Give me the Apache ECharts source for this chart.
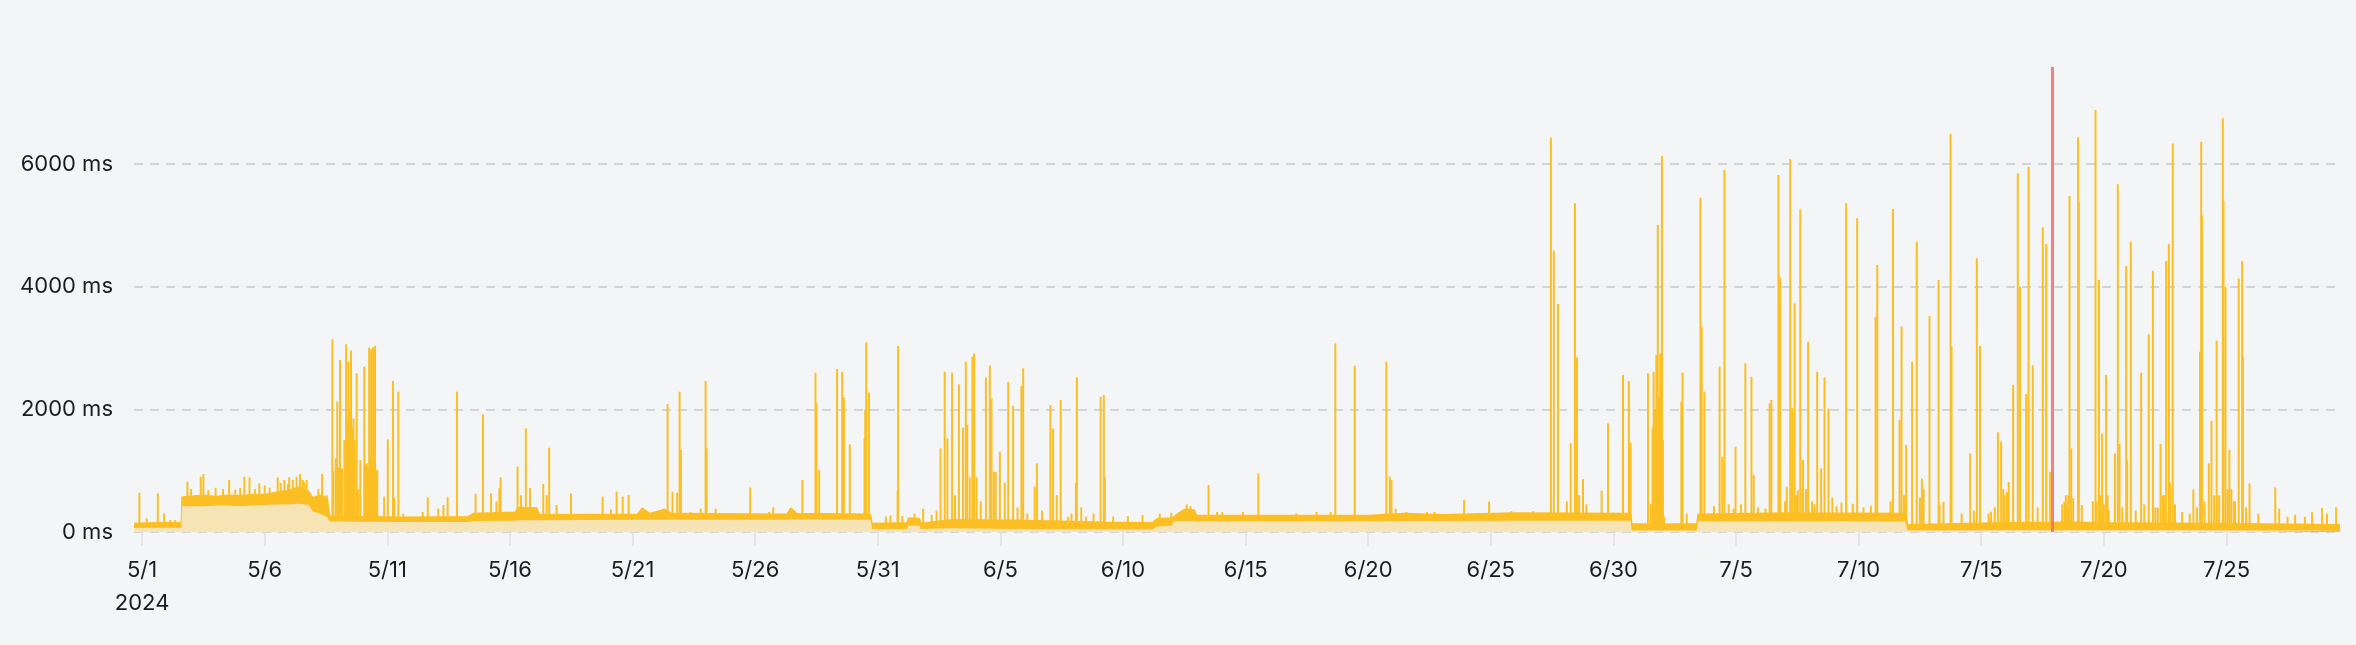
<!DOCTYPE html>
<html>
<head>
<meta charset="UTF-8">
<title>Response time</title>
<script src="https://cdn.jsdelivr.net/npm/echarts@6/dist/echarts.min.js"></script>
<style>
  html, body { margin: 0; height: 100%; background: #f4f5f7; }
  #main { width: 2356px; height: 645px; }
</style>
</head>
<body>
<div id="main"></div>
<script>
// all times are days after 2024-05-01 00:00, values in ms

// the thick noisy baseline: top of the yellow band and top of the pale fill below it
const bandDays = [-0.33, 0.5, 1.6, 1.63, 2.5, 3.0, 3.5, 4.0, 4.5, 5.0, 5.5, 6.0, 6.4, 6.8, 6.95, 7.3, 7.55, 7.65,
  10.5, 13.3, 13.5, 15.2, 15.35, 16.1, 16.2, 20.2, 20.4, 20.7, 21.3, 21.6, 26.3, 26.45, 26.7, 29.7, 29.77,
  31.2, 31.25, 31.7, 31.75, 33.0, 35.5, 39.3, 41.2, 41.4, 42.0, 42.05, 42.5, 42.9, 43.0, 50.0, 51.5, 53.0,
  56.0, 60.7, 60.75, 63.4, 63.45, 67.0, 71.9, 72.0, 76.0, 78.4, 80.0, 84.0, 86.5, 89.63];
const bandHigh = [140, 150, 150, 570, 600, 580, 600, 590, 610, 610, 650, 680, 730, 660, 560, 600, 560, 260,
  240, 250, 300, 320, 400, 390, 280, 290, 390, 300, 370, 300, 290, 390, 300, 290, 140,
  150, 230, 220, 140, 200, 190, 160, 150, 220, 230, 260, 370, 360, 270, 270, 300, 280,
  310, 300, 130, 130, 290, 310, 300, 120, 150, 160, 150, 140, 130, 120];
const bandLow = [65, 70, 70, 420, 420, 430, 430, 420, 430, 440, 450, 450, 460, 440, 340, 290, 240, 170,
  165, 165, 180, 185, 190, 190, 190, 200, 200, 200, 200, 200, 200, 205, 205, 200, 50,
  50, 100, 100, 50, 60, 50, 45, 40, 90, 100, 170, 180, 180, 175, 175, 180, 180,
  185, 185, 25, 25, 175, 175, 170, 25, 30, 30, 30, 30, 25, 25];

// tall and medium spikes
const spikeDays = [-0.11, 0.19, 0.64, 0.9, 1.14, 1.35, 1.85, 2.39, 2.5, 3.55, 4.17, 4.38, 4.78, 5.53, 5.8, 6.0,
  6.3, 6.44, 6.71, 7.19, 7.34, 7.53, 7.76, 7.8, 7.9, 7.96, 8.02, 8.07, 8.15, 8.25, 8.32, 8.36, 8.41, 8.46,
  8.52, 8.56, 8.62, 8.67, 8.75, 8.82, 8.9, 9.06, 9.1, 9.16, 9.21, 9.26, 9.3, 9.34, 9.38, 9.42, 9.46, 9.5,
  9.55, 9.59, 9.87, 10.02, 10.23, 10.28, 10.45, 10.65, 11.44, 11.65, 12.08, 12.29, 12.46, 12.84, 13.6, 13.9,
  14.23, 14.45, 14.57, 14.62, 15.31, 15.45, 15.65, 15.82, 16.36, 16.5, 16.6, 16.9, 17.49, 18.78, 19.12,
  19.35, 19.6, 19.84, 21.43, 21.63, 21.82, 21.92, 21.97, 22.37, 22.78, 22.98, 23.02, 23.39, 24.8, 25.57,
  25.74, 26.93, 27.46, 27.5, 27.61, 28.34, 28.55, 28.62, 28.86, 29.46, 29.49, 29.53, 29.64, 30.33, 30.52,
  30.81, 30.83, 31.85, 32.56, 32.73, 32.84, 33.03, 33.31, 33.48, 33.59, 33.65, 33.86, 33.93, 34.03, 34.41,
  34.57, 34.64, 34.73, 34.81, 34.98, 35.18, 35.32, 35.52, 35.86, 35.93, 36.4, 36.49, 37.04, 37.15, 37.46,
  37.76, 38.08, 38.12, 38.49, 39.09, 39.22, 39.26, 41.97, 43.49, 43.84, 44.05, 44.89, 45.52, 47.07, 47.89,
  48.47, 48.66, 49.45, 50.74, 50.88, 50.95, 51.12, 51.56, 52.4, 52.71, 53.91, 54.93, 55.84, 56.72, 57.45,
  57.57, 57.74, 58.1, 58.26, 58.43, 58.51, 58.6, 58.76, 58.9, 59.52, 59.78, 60.39, 60.63, 60.7, 61.41,
  61.52, 61.6, 61.64, 61.7, 61.75, 61.81, 61.86, 61.91, 61.95, 61.98, 62.02, 62.07, 62.77, 62.82, 62.99,
  63.55, 63.6, 63.71, 64.33, 64.44, 64.53, 64.7, 64.98, 65.38, 65.63, 65.72, 66.37, 66.44, 66.73, 66.8,
  67.0, 67.07, 67.21, 67.29, 67.39, 67.45, 67.52, 67.62, 67.73, 67.85, 67.94, 68.1, 68.31, 68.47, 68.61,
  68.77, 68.93, 69.49, 69.76, 69.94, 70.69, 70.76, 71.4, 71.67, 71.75, 71.94, 72.18, 72.37, 72.58, 72.89,
  73.26, 73.46, 73.75, 73.79, 74.55, 74.82, 74.95, 75.4, 75.55, 75.68, 75.81, 75.9, 76.12, 76.3, 76.49,
  76.58, 76.83, 76.93, 77.1, 77.51, 77.65, 77.81, 78.39, 78.45, 78.5, 78.6, 78.67, 78.95, 78.98, 79.1,
  79.66, 79.7, 79.8, 79.85, 79.93, 80.09, 80.2, 80.45, 80.57, 80.64, 80.91, 80.95, 81.1, 81.52, 81.83,
  82.0, 82.1, 82.31, 82.4, 82.54, 82.65, 82.7, 82.81, 83.19, 83.65, 83.92, 83.97, 84.0, 84.28, 84.39,
  84.5, 84.6, 84.85, 84.88, 84.96, 85.05, 85.12, 85.3, 85.5, 85.64, 85.67, 85.94, 86.99, 87.15, 87.49,
  88.49, 88.9, 89.47];
const spikeMs = [641, 223, 630, 304, 196, 196, 820, 902, 946, 848, 902, 891, 793, 891, 848, 891,
  900, 946, 850, 700, 946, 600, 3141, 1000, 1200, 2124, 1050, 2804, 1038, 1500, 3060, 1800, 2778, 2000,
  2958, 1700, 1853, 1500, 2587, 700, 1174, 2695, 1100, 1120, 1050, 3007, 1200, 2980, 1100, 3007, 1150, 3034,
  1000, 1010, 576, 1511, 2461, 560, 2287, 300, 326, 565, 380, 440, 565, 2287, 620, 1918,
  630, 500, 711, 891, 1065, 600, 1690, 717, 782, 600, 1374, 440, 630, 576, 369,
  657, 576, 603, 2086, 657, 640, 2287, 1337, 326, 380, 2461, 1364, 380, 728, 326,
  402, 848, 2597, 2097, 1011, 2657, 2613, 2195, 1429, 1527, 2000, 3092, 2271, 250, 270,
  680, 3032, 380, 1364, 2613, 1527, 2597, 2407, 1700, 2776, 1750, 2858, 2912, 891, 2521,
  2711, 2179, 980, 980, 1310, 804, 2445, 2054, 2380, 2668, 739, 1119, 2070, 1690, 2152,
  250, 793, 2521, 250, 2206, 2233, 900, 315, 766, 326, 326, 326, 956, 300, 326,
  326, 3075, 2711, 2776, 902, 848, 380, 326, 326, 326, 521, 494, 340, 340, 6430,
  4585, 3716, 500, 1445, 5357, 2847, 600, 863, 450, 673, 1771, 2559, 2461, 1456, 2587,
  460, 1700, 2613, 2000, 2885, 5004, 2200, 2912, 1800, 6129, 1500, 250, 2124, 2597, 300,
  5449, 3347, 2287, 2695, 1227, 5901, 450, 1390, 2749, 2531, 930, 2097, 2152, 5819, 4150,
  500, 739, 6075, 2022, 3728, 600, 680, 5260, 1174, 700, 3102, 500, 2613, 1038, 2521,
  2011, 560, 5357, 460, 5113, 3510, 4352, 5266, 1826, 3347, 1418, 2776, 4732, 870, 3521,
  4108, 494, 6487, 3021, 1281, 4461, 3032, 330, 400, 1625, 1478, 700, 815, 2396, 5847,
  4000, 2250, 5955, 2717, 4966, 4694, 983, 494, 600, 400, 5477, 1364, 6433, 5380, 440,
  6879, 500, 4108, 600, 1608, 2559, 350, 1281, 5667, 1434, 4336, 1174, 4732, 2597, 3222,
  4260, 400, 1434, 600, 4417, 4694, 800, 6335, 326, 695, 2939, 6362, 5160, 1119, 1815,
  600, 3119, 6743, 5400, 4000, 700, 1337, 500, 4135, 4417, 2855, 793, 728, 380, 250,
  326, 391, 402];

// small spikes that make the baseline look noisy
const smallDays = [2.0, 2.7, 3.0, 3.3, 3.8, 4.0, 4.6, 5.0, 5.2, 5.65, 5.95, 6.15, 6.55, 6.6,
  31.0, 31.5, 32.2, 32.4, 33.15, 33.75, 34.2, 35.7, 36.1, 36.7, 37.3, 37.9, 38.3, 38.8, 39.6, 40.2, 40.8, 41.5,
  42.6, 42.75, 64.1, 64.9, 65.2, 65.9, 66.2, 68.2, 69.1, 69.3, 70.2, 70.5, 71.3, 71.85, 72.5, 72.65, 73.3,
  74.2, 74.7, 75.3, 75.95, 76.05, 77.3, 78.3, 78.55, 78.75, 79.55, 80.0, 80.15, 80.75, 81.3, 81.65, 82.2,
  82.45, 82.9, 83.5, 83.8, 84.1, 84.7, 85.2, 85.35, 85.8, 86.3, 87.8, 88.2, 89.1];
const smallMs = [700, 680, 720, 700, 690, 720, 700, 760, 720, 800, 780, 850, 850, 820,
  260, 300, 280, 350, 600, 900, 500, 400, 300, 350, 600, 300, 400, 300, 250, 260, 280, 300,
  450, 420, 420, 380, 450, 400, 380, 450, 420, 480, 400, 430, 500, 600, 560, 700, 450,
  300, 350, 300, 600, 650, 400, 450, 600, 550, 500, 450, 600, 400, 350, 450, 400,
  600, 450, 300, 400, 500, 600, 700, 500, 400, 300, 280, 250, 300];

// incident marker (red line)
const incidentDays = [77.9];

// x tick positions and axis ranges
const tickDays = [0, 5, 10, 15, 20, 25, 30, 35, 40, 45, 50, 55, 60, 65, 70, 75, 80, 85];
const firstDay = -0.33;
const lastDay = 89.63;
const yMax = 7580;

const DAY = 86400000;
const t0 = new Date(2024, 4, 1, 12).getTime();

const yellow = '#fbbf24';
const pale = '#f6e4b4';
const labelFont = { color: '#1c1c1e', fontSize: 22, fontFamily: 'Inter' };

let chart = echarts.init(document.getElementById('main'));

function dayLabel(d) {
  let dt = new Date(t0 + Math.round(d) * DAY);
  let s = (dt.getMonth() + 1) + '/' + dt.getDate();
  return Math.abs(d) < 0.01 ? s + '\n2024' : s;
}

let spikes = spikeDays.map((d, i) => [d, spikeMs[i]])
  .concat(smallDays.map((d, i) => [d, smallMs[i]]));

chart.setOption({
  animation: false,
  backgroundColor: '#f4f5f7',
  grid: { left: 134, right: 16, top: 67, bottom: 113, containLabel: false },
  xAxis: {
    type: 'value',
    min: firstDay,
    max: lastDay,
    axisLine: { show: false },
    splitLine: { show: false },
    axisTick: {
      show: true,
      customValues: tickDays,
      length: 14,
      lineStyle: { color: '#dfe0e3', width: 1.5 }
    },
    axisLabel: Object.assign({
      customValues: tickDays,
      margin: 22,
      lineHeight: 33,
      formatter: dayLabel
    }, labelFont)
  },
  yAxis: {
    type: 'value',
    min: 0,
    max: yMax,
    interval: 2000,
    axisLine: { show: false },
    axisTick: { show: false },
    axisLabel: Object.assign({
      formatter: v => v + ' ms',
      margin: 21,
      showMaxLabel: false
    }, labelFont),
    splitLine: {
      show: true,
      showMaxLine: false,
      lineStyle: { color: '#c8c9cd', width: 1.5, type: [9, 7] }
    }
  },
  series: [
    {
      name: 'spikes',
      type: 'bar',
      barWidth: 2,
      z: 1,
      itemStyle: { color: yellow },
      data: spikes
    },
    {
      name: 'band',
      type: 'line',
      symbol: 'none',
      z: 2,
      lineStyle: { color: yellow, width: 1.5 },
      areaStyle: { color: yellow, opacity: 1 },
      data: bandDays.map((d, i) => [d, bandHigh[i]])
    },
    {
      name: 'floor',
      type: 'line',
      symbol: 'none',
      z: 3,
      lineStyle: { width: 0, opacity: 0 },
      areaStyle: { color: pale, opacity: 1 },
      data: bandDays.map((d, i) => [d, bandLow[i]]),
      markLine: {
        silent: true,
        symbol: ['none', 'none'],
        label: { show: false },
        lineStyle: { color: '#f26b6b', width: 3, type: 'solid', opacity: 0.85 },
        data: incidentDays.map(d => ({ xAxis: d }))
      }
    }
  ]
});
</script>
</body>
</html>
